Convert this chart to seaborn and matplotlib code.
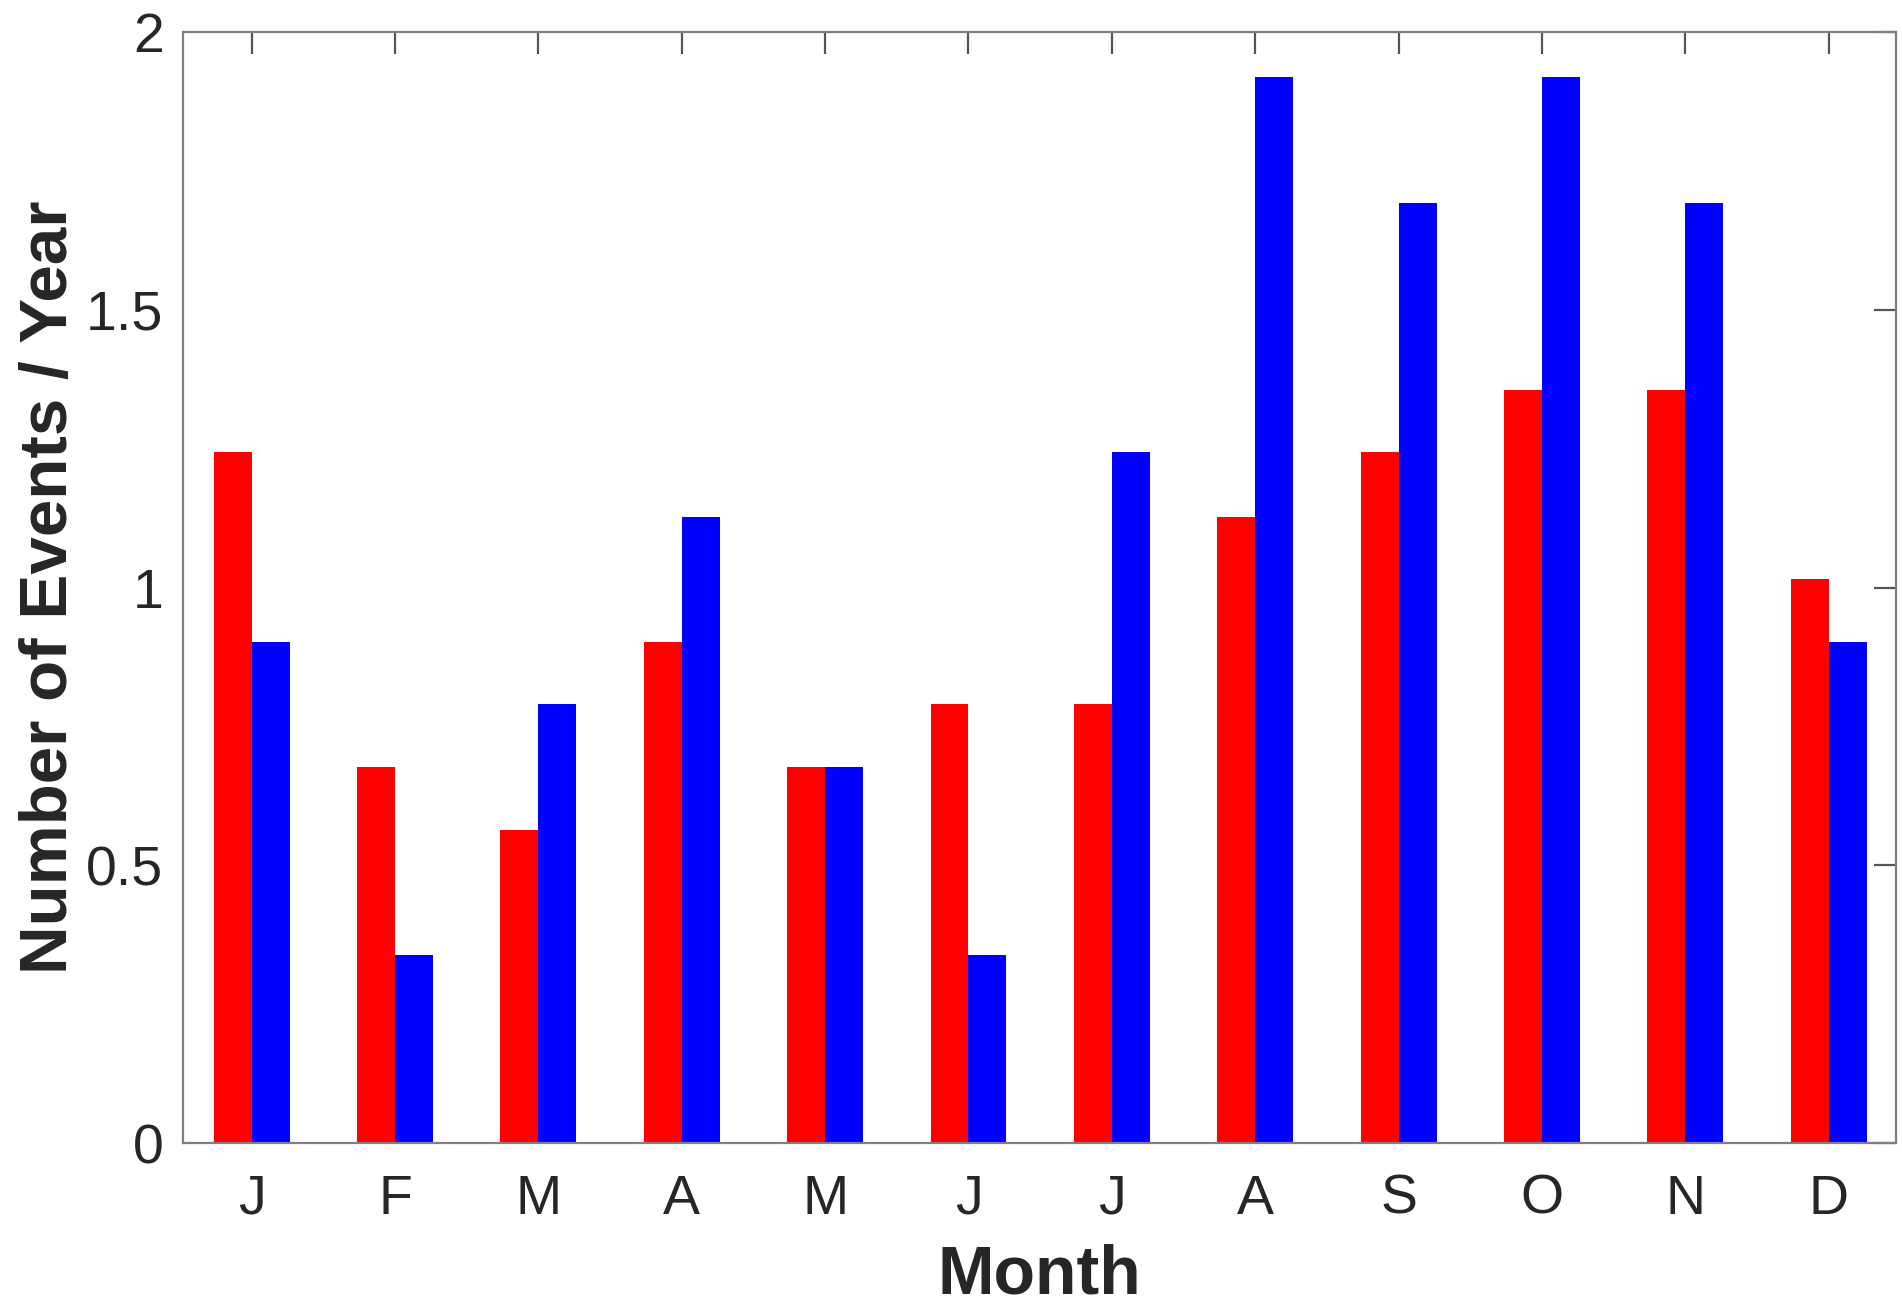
import matplotlib
matplotlib.use("Agg")
import matplotlib.pyplot as plt
import seaborn as sns
import pandas as pd

months = ["J", "F", "M", "A", "M", "J", "J", "A", "S", "O", "N", "D"]
series_a = [1.244, 0.678, 0.564, 0.903, 0.678, 0.791, 0.791, 1.128, 1.244, 1.355, 1.355, 1.016]
series_b = [0.903, 0.339, 0.791, 1.128, 0.678, 0.339, 1.244, 1.919, 1.692, 1.919, 1.692, 0.903]
yticks = [0, 0.5, 1, 1.5, 2]
ytick_labels = ["0", "0.5", "1", "1.5", "2"]

sns.set_theme(style="white")
plt.rcParams["font.family"] = ["Liberation Sans", "DejaVu Sans"]

rows = []
for i, m in enumerate(months):
    rows.append({"pos": i, "series": "A", "value": series_a[i]})
    rows.append({"pos": i, "series": "B", "value": series_b[i]})
df = pd.DataFrame(rows)

fig = plt.figure(figsize=(19.02, 13.08), dpi=100)
ax = fig.add_axes([0.0962, 0.126, 0.9006, 0.8495])

sns.barplot(data=df, x="pos", y="value", hue="series", palette=["#ff0000", "#0000ff"],
            width=0.53, gap=0, dodge=True, saturation=1, legend=False, ax=ax,
            edgecolor="none", linewidth=0)

ax.set_xlim(-0.48, 11.47)
ax.set_ylim(0, 2)
ax.set_xticks(range(len(months)))
ax.set_xticklabels(months)
ax.set_yticks(yticks)
ax.set_yticklabels(ytick_labels)

for s in ax.spines.values():
    s.set_visible(True)
    s.set_color("#7f7f7f")
    s.set_linewidth(1.6)

ax.tick_params(axis="both", direction="in", length=16, width=1.6, color="#555555",
               top=True, right=True, labelsize=40, labelcolor="#262626", pad=14)
ax.tick_params(axis="x", pad=22)

ax.set_xlabel("Month", fontsize=49, fontweight="bold", color="#262626", labelpad=13)
ax.set_ylabel("Number of Events / Year", fontsize=48.5, fontweight="bold", color="#262626", labelpad=4)

fig.savefig("out.png", dpi=100)
